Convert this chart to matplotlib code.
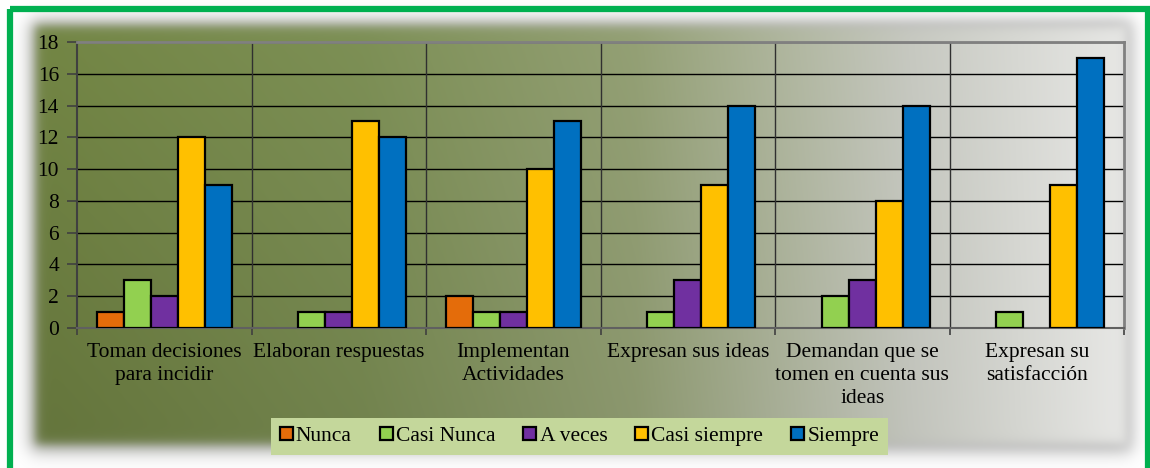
import numpy as np
import matplotlib
matplotlib.use("Agg")
import matplotlib.pyplot as plt
from matplotlib.patches import Rectangle, Patch

categories = ["Toman decisiones\npara incidir", "Elaboran respuestas",
              "Implementan\nActividades", "Expresan sus ideas",
              "Demandan que se\ntomen en cuenta sus\nideas",
              "Expresan su\nsatisfacción"]
series_names = ["Nunca", "Casi Nunca", "A veces", "Casi siempre", "Siempre"]
nunca = [1, 0, 2, 0, 0, 0]
casi_nunca = [3, 1, 1, 1, 2, 1]
a_veces = [2, 1, 1, 3, 3, 0]
casi_siempre = [12, 13, 10, 9, 8, 9]
siempre = [9, 12, 13, 14, 14, 17]
yticks = list(range(0, 19, 2))

series = [nunca, casi_nunca, a_veces, casi_siempre, siempre]
colors = ["#e46c0a", "#92d050", "#7030a0", "#ffc000", "#0070c0"]

plt.rcParams['font.family'] = ['Liberation Serif', 'DejaVu Serif']
FS = 15.5

W, H = 1150, 468
fig = plt.figure(figsize=(W / 100, H / 100), dpi=100)
fig.patch.set_facecolor("white")

# background
bg = fig.add_axes([0, 0, 1, 1])
bg.set_xlim(0, W)
bg.set_ylim(H, 0)
bg.axis("off")

xx = np.arange(W)[None, :] + 0.5
yy = np.arange(H)[:, None] + 0.5


def soft_rect(x0, x1, y0, y1, s):
    fx = 1 / (1 + np.exp(-(xx - x0) / s)) * 1 / (1 + np.exp((xx - x1) / s))
    fy = 1 / (1 + np.exp(-(yy - y0) / s)) * 1 / (1 + np.exp((yy - y1) / s))
    return fx * fy


img = np.ones((H, W, 3))
shadow = soft_rect(30, 1132, 20, 452, 5) * 0.55
img = img * (1 - shadow[..., None]) + np.array([0.45, 0.45, 0.45]) * shadow[..., None]

stops_x = np.array([0.0, 0.3, 0.55, 0.8, 1.0])
stops_c = np.array([[108, 126, 64], [120, 138, 82], [144, 156, 114], [196, 198, 190], [232, 232, 230]]) / 255
t = np.clip((xx[0] - 35) / (1128 - 35), 0, 1)
grad = np.stack([np.interp(t, stops_x, stops_c[:, k]) for k in range(3)], axis=-1)
grad = np.broadcast_to(grad[None, :, :], (H, W, 3)).copy()
vy = np.clip((yy - 22) / (445 - 22), 0, 1)
wleft = (1 - t)[None, :]
factor = 1 + 0.14 * (0.45 - vy) * wleft
grad = np.clip(grad * factor[..., None], 0, 1)
box = soft_rect(36, 1127, 26, 444, 3.0)
img = img * (1 - box[..., None]) + grad * box[..., None]
bg.imshow(img, extent=(0, W, H, 0), aspect="auto", interpolation="bilinear")

bg.add_patch(Rectangle((9.5, 8.5), 1138, 470, fill=False, edgecolor="#00b050", linewidth=4.5))

# main axes
L, R, T, B = 77, 1124, 42, 328
ax = fig.add_axes([L / W, (H - B) / H, (R - L) / W, (B - T) / H])
ax.patch.set_alpha(0)

n = len(categories)
bw = 0.155
x = np.arange(n)
for j, (vals, c) in enumerate(zip(series, colors)):
    vals = np.array(vals, dtype=float)
    pos = x + (j - 2) * bw
    m = vals > 0
    ax.bar(pos[m], vals[m], width=bw, color=c, edgecolor="black", linewidth=1.6, zorder=3)

ax.set_xlim(-0.5, n - 0.5)
ax.set_ylim(0, 18)
ax.set_yticks(yticks)
ax.set_yticklabels([str(v) for v in yticks], fontsize=FS)
ax.yaxis.grid(True, color="black", linewidth=1.0, zorder=0)
ax.set_axisbelow(True)

ax.set_xticks(np.arange(n + 1) - 0.5)
ax.set_xticklabels([])
ax.set_xticks(x, minor=True)
ax.set_xticklabels(categories, minor=True, fontsize=FS, linespacing=1.27)
ax.tick_params(axis="x", which="minor", length=0, pad=11)
ax.tick_params(axis="x", which="major", length=5, width=1.2, color="#404040")
ax.tick_params(axis="y", length=7, width=1.2, color="#404040", pad=6)
for b in np.arange(1, n) - 0.5:
    ax.axvline(b, color="#303030", linewidth=1.0, zorder=1)

ax.spines["left"].set_color("#404040")
ax.spines["left"].set_linewidth(1.5)
ax.spines["bottom"].set_color("#606060")
ax.spines["bottom"].set_linewidth(1.5)
ax.spines["top"].set_color("#808080")
ax.spines["top"].set_linewidth(2.0)
ax.spines["right"].set_color("#808080")
ax.spines["right"].set_linewidth(2.0)

handles = [Patch(facecolor=c, edgecolor="black", linewidth=1.6) for c in colors]
leg = fig.legend(handles, series_names, loc="center", ncol=5,
                 bbox_to_anchor=(579.5 / W, (H - 436.5) / H),
                 fontsize=FS, frameon=True, fancybox=False,
                 handlelength=0.6, handleheight=0.6, handletextpad=0.15,
                 columnspacing=1.3, borderpad=0.4, borderaxespad=0)
fr = leg.get_frame()
fr.set_facecolor("#c4d79b")
fr.set_edgecolor("none")
fr.set_alpha(1)

fig.savefig("out.png", dpi=100)
